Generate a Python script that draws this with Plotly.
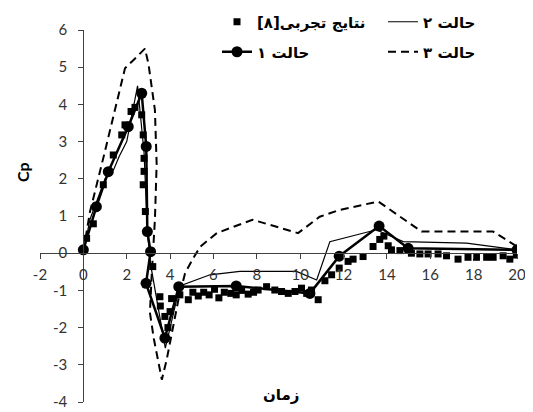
import plotly.graph_objects as go

# Experimental results
exp_x = [0.15, 0.46, 0.92, 1.38, 1.77, 1.92, 2.2, 2.38, 2.69, 2.76, 2.8, 2.8, 2.76, 2.86, 3.2,
         3.53, 3.55, 3.76, 3.9, 4.0, 4.07, 4.45, 4.84, 5.05, 5.3, 5.55, 5.8, 6.05, 6.25, 6.5, 6.8,
         7.05, 7.3, 7.6, 7.85, 8.06, 8.45, 8.83, 9.14, 9.45, 9.76, 10.06, 10.3, 10.52, 10.83,
         11.14, 11.45, 11.8, 12.21, 12.44, 12.9, 13.36, 13.67, 13.86, 14.06, 14.21, 14.6, 15.13,
         15.52, 15.9, 16.36, 16.75, 17.28, 17.74, 18.13, 18.6, 18.9, 19.36, 19.67, 19.97]
exp_y = [0.40, 0.79, 1.84, 2.64, 3.18, 3.45, 3.81, 3.92, 3.72, 3.18, 2.55, 2.2, 1.84, 1.12, -0.36,
         -1.17, -1.42, -1.7, -2.0, -1.57, -1.22, -1.12, -1.25, -1.05, -1.15, -1.05, -1.12, -0.97, -1.2, -1.05, -1.08,
         -1.12, -1.0, -1.1, -1.05, -0.99, -0.9, -0.99, -1.03, -1.08, -1.03, -0.94, -1.08, -0.99, -1.25,
         -0.74, -0.58, -0.4, -0.22, -0.16, -0.09, 0.18, 0.37, 0.46, 0.2, 0.09, 0.07, 0.0,
         -0.02, -0.02, -0.02, -0.07, -0.16, -0.11, -0.11, -0.11, -0.11, -0.07, -0.16, -0.05]

# Case 1 (thick line with circles)
c1_x = [0, 0.6, 1.15, 2.07, 2.69, 2.9, 2.95, 3.1, 2.89, 3.76, 4.4, 7.05, 10.45, 11.8, 13.64, 14.98, 20]
c1_y = [0.09, 1.25, 2.19, 3.4, 4.3, 2.87, 0.58, 0.04, -0.81, -2.28, -0.9, -0.88, -1.08, -0.08, 0.73, 0.13, 0.09]

# Case 2 (thin line)
c2_x = [0, 0.3, 1.0, 1.4, 1.65, 2.0, 2.5, 2.8, 2.95, 3.1, 3.78, 4.45, 5.84, 7.22, 9.83, 10.76, 11.37,
        13.51, 14.75, 17.67, 20]
c2_y = [0, 0.9, 2.0, 2.25, 2.6, 3.0, 4.5, 2.7, 0.6, -0.3, -2.55, -0.88, -0.58, -0.49, -0.49, -0.72, 0.31,
        0.63, 0.31, 0.27, 0.09]

# Case 3 (dashed)
c3_x = [0, 0.3, 1.0, 1.92, 2.5, 2.84, 3.0, 3.3, 3.38, 3.3, 3.15, 3.07, 3.25, 3.45, 3.62, 3.84, 4.07,
        4.38, 4.69, 5.07, 5.4, 6.15, 7.8, 9.9, 10.9, 11.8, 13.6, 15.6, 18.9, 20]
c3_y = [0.05, 1.1, 2.75, 4.97, 5.3, 5.5, 5.1, 3.85, 2.4, 0.9, -0.6, -1.6, -2.3, -2.9, -3.4, -2.87, -2.15,
        -1.26, -0.54, -0.13, 0.18, 0.54, 0.9, 0.54, 0.98, 1.16, 1.39, 0.58, 0.58, 0.18]

x_ticks = [-2, 0, 2, 4, 6, 8, 10, 12, 14, 16, 18, 20]
x_labels = ["-2", "0", "2", "4", "6", "8", "10", "12", "14", "16", "18", "20"]
y_ticks = [-4, -3, -2, -1, 0, 1, 2, 3, 4, 5, 6]
y_labels = ["-4", "-3", "-2", "-1", "0", "1", "2", "3", "4", "5", "6"]

name_exp = "\u200fنتایج تجربی[۸]\u200f"
name_c1 = "حالت ۱"
name_c2 = "حالت ۲"
name_c3 = "حالت ۳"

OFF = 8  # page body margin
W, H = 533 - OFF, 412 - OFF


def px(x):
    return (x - OFF) / W


def py(y):
    return 1 - (y - OFF) / H


fig = go.Figure()
fig.add_trace(go.Scatter(x=c3_x, y=c3_y, mode="lines", name=name_c3,
                         line=dict(color="black", width=2, dash="8px,5px"), legend="legend4"))
fig.add_trace(go.Scatter(x=c2_x, y=c2_y, mode="lines", name=name_c2,
                         line=dict(color="black", width=1.2), legend="legend2"))
fig.add_trace(go.Scatter(x=exp_x, y=exp_y, mode="markers", name=name_exp,
                         marker=dict(symbol="square", size=7, color="black"), legend="legend"))
fig.add_trace(go.Scatter(x=c1_x, y=c1_y, mode="lines+markers", name=name_c1,
                         line=dict(color="black", width=2.5),
                         marker=dict(symbol="circle", size=11, color="black"), legend="legend3"))

axis_col = "#404040"
tick_font = dict(family="Lato, Open Sans, sans-serif", size=15, color="#333333")
leg_font = dict(family="DejaVu Sans, sans-serif", size=15, color="black", weight="bold")


def leg(x, y):
    return dict(x=px(x), y=py(y), xanchor="left", yanchor="middle", orientation="h",
                font=leg_font, bgcolor="rgba(0,0,0,0)", borderwidth=0)


fig.update_layout(
    width=W, height=H,
    margin=dict(l=0, r=0, t=0, b=0, autoexpand=False),
    paper_bgcolor="white", plot_bgcolor="white",
    showlegend=True,
    legend=leg(217, 22),
    legend2=leg(383, 22),
    legend3=leg(217, 52),
    legend4=leg(383, 52),
    xaxis=dict(domain=[px(40), px(517)], range=[-2, 20], tickvals=x_ticks, ticktext=x_labels,
               ticks="outside", ticklen=5, tickcolor=axis_col,
               showline=True, linecolor=axis_col, linewidth=1.3, showgrid=False, zeroline=False,
               anchor="free", position=py(253.3), tickfont=tick_font, ticklabelstandoff=3,
               automargin=False),
    yaxis=dict(domain=[py(402), py(30)], range=[-4, 6], tickvals=y_ticks, ticktext=y_labels,
               ticks="outside", ticklen=5, tickcolor=axis_col,
               showline=True, linecolor=axis_col, linewidth=1.3, showgrid=False, zeroline=False,
               anchor="free", position=px(83.4), tickfont=tick_font, ticklabelstandoff=8,
               automargin=False),
    annotations=[
        dict(text="<b>Cp</b>", x=px(22), y=py(172), xref="paper", yref="paper", showarrow=False,
             xanchor="center", yanchor="middle",
             textangle=-90, font=dict(family="Lato, Open Sans, sans-serif", size=16, color="black")),
        dict(text="<b>زمان</b>", x=px(281), y=py(395), xref="paper", yref="paper", showarrow=False,
             xanchor="center", yanchor="middle",
             font=dict(family="DejaVu Sans, sans-serif", size=15, color="black")),
    ],
)

fig.write_html("out.html")
